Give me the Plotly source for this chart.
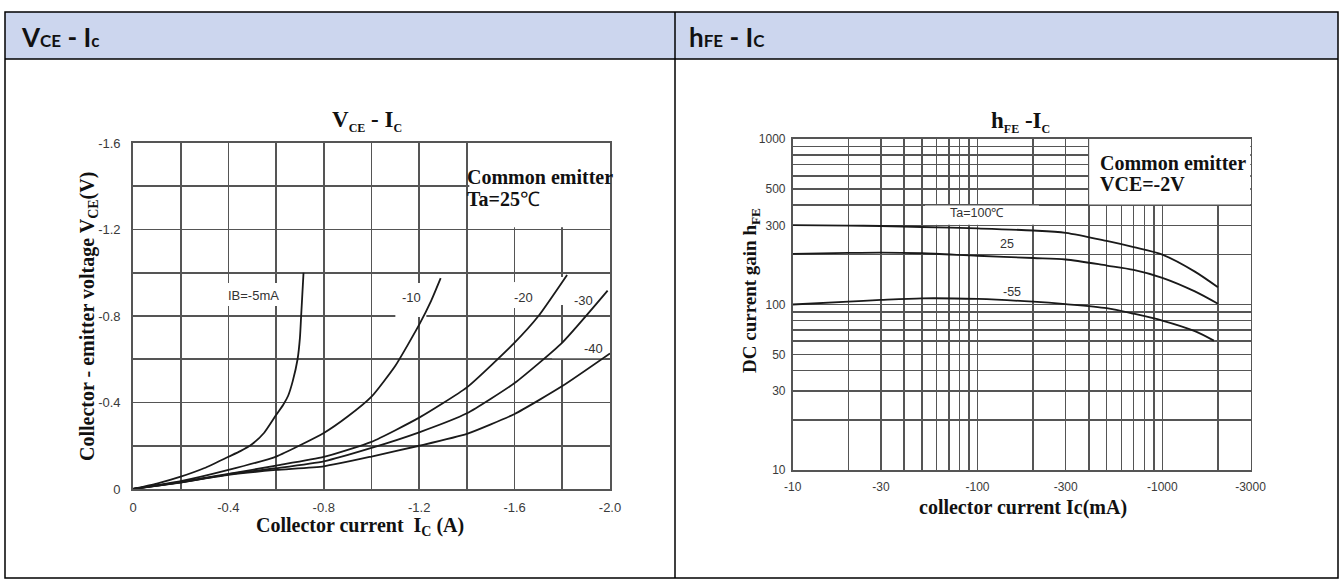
import plotly.graph_objects as go

W, H = 1343, 581

# ---------------- data : V_CE - I_C (left panel) ----------------
ic_ib5 = [0, -0.1, -0.2, -0.3, -0.4, -0.45, -0.5, -0.55, -0.6, -0.63, -0.65, -0.67, -0.69, -0.70, -0.705, -0.71, -0.715]
vce_ib5 = [0, -0.025, -0.057, -0.097, -0.149, -0.175, -0.208, -0.26, -0.342, -0.39, -0.43, -0.5, -0.6, -0.7, -0.8, -0.9, -1.0]

ic_ib10 = [0, -0.2, -0.4, -0.6, -0.8, -0.9, -1.0, -1.1, -1.2, -1.25, -1.29]
vce_ib10 = [0, -0.036, -0.088, -0.15, -0.259, -0.335, -0.427, -0.57, -0.76, -0.87, -0.975]

ic_ib20 = [0, -0.2, -0.4, -0.6, -0.8, -1.0, -1.2, -1.4, -1.6, -1.7, -1.82]
vce_ib20 = [0, -0.032, -0.07, -0.108, -0.148, -0.218, -0.33, -0.47, -0.677, -0.8, -0.99]

ic_ib30 = [0, -0.2, -0.4, -0.6, -0.8, -1.0, -1.2, -1.4, -1.6, -1.8, -1.99]
vce_ib30 = [0, -0.031, -0.068, -0.096, -0.128, -0.19, -0.262, -0.35, -0.49, -0.677, -0.917]

ic_ib40 = [0, -0.2, -0.4, -0.6, -0.8, -1.0, -1.2, -1.4, -1.6, -1.8, -2.0]
vce_ib40 = [0, -0.03, -0.065, -0.088, -0.105, -0.15, -0.2, -0.255, -0.347, -0.476, -0.627]

ib_labels = ["IB=-5mA", "-10", "-20", "-30", "-40"]

vce_x_ticks = [0, -0.4, -0.8, -1.2, -1.6, -2.0]
vce_x_text = ["0", "-0.4", "-0.8", "-1.2", "-1.6", "-2.0"]
vce_x_minor = [-0.2, -0.6, -1.0, -1.4, -1.8]
vce_y_ticks = [0, -0.4, -0.8, -1.2, -1.6]
vce_y_text = ["0", "-0.4", "-0.8", "-1.2", "-1.6"]
vce_y_minor = [-0.2, -0.6, -1.0, -1.4]

# ---------------- data : h_FE - I_C (right panel) ----------------
ic_ma = [10, 20, 30, 50, 100, 200, 300, 500, 700, 1000, 1500, 2000]
hfe_100 = [302, 300, 298, 294, 288, 280, 271, 242, 222, 200, 158, 127]
hfe_25 = [202, 205, 206, 204, 197, 191, 187, 172, 162, 145, 120, 101]
ic_ma_m55 = [10, 20, 30, 50, 100, 200, 300, 500, 700, 1000, 1500, 1900]
hfe_m55 = [100, 104, 106.5, 109, 108, 104, 100.5, 95, 88, 80, 69, 60.5]

ta_labels = ["Ta=100\u2103", "25", "-55"]

hfe_x_ticks = [10, 30, 100, 300, 1000, 3000]
hfe_x_text = ["-10", "-30", "-100", "-300", "-1000", "-3000"]
hfe_x_minor = [20, 40, 50, 60, 70, 80, 90, 200, 400, 500, 600, 700, 800, 900, 2000]
hfe_y_ticks = [10, 30, 50, 100, 300, 500, 1000]
hfe_y_text = ["10", "30", "50", "100", "300", "500", "1000"]
hfe_y_minor = [20, 40, 60, 70, 80, 90, 200, 400, 600, 700, 800, 900]

# ---------------- helpers ----------------
OFF = 0  # page body margin removed below (post_script)


def px(x):
    return (x - OFF) / W


def py(y):
    return 1 - (y - OFF) / H


SERIF = "Liberation Serif"
SANS = "Liberation Sans"
GRID = "#555555"
CURVE = "#1a1a1a"

fig = go.Figure()

for xs, ys in [(ic_ib5, vce_ib5), (ic_ib10, vce_ib10), (ic_ib20, vce_ib20),
               (ic_ib30, vce_ib30), (ic_ib40, vce_ib40)]:
    fig.add_trace(go.Scatter(x=xs, y=ys, mode="lines", xaxis="x", yaxis="y",
                             line=dict(color=CURVE, width=1.8, shape="spline", smoothing=0.5),
                             showlegend=False, hoverinfo="skip"))

for xs, ys in [(ic_ma, hfe_100), (ic_ma, hfe_25), (ic_ma_m55, hfe_m55)]:
    fig.add_trace(go.Scatter(x=xs, y=ys, mode="lines", xaxis="x2", yaxis="y2",
                             line=dict(color=CURVE, width=1.8, shape="spline", smoothing=0.8),
                             showlegend=False, hoverinfo="skip"))

common_axis = dict(showgrid=True, gridcolor=GRID, gridwidth=1.6, zeroline=False,
                   showline=True, mirror=True, linecolor=GRID, linewidth=1.8,
                   ticks="", tickmode="array", fixedrange=True, automargin=False)


def minor(vals):
    return dict(tickmode="array", tickvals=vals, showgrid=True, gridcolor=GRID,
                gridwidth=1.6, ticks="")


fig.update_layout(
    width=W, height=H, autosize=False,
    margin=dict(l=0, r=0, t=0, b=0, pad=0, autoexpand=False),
    paper_bgcolor="white", plot_bgcolor="white",
    showlegend=False,
    xaxis=dict(common_axis, domain=[px(133), px(610)], range=[0, -2.0],
               tickvals=vce_x_ticks, ticktext=vce_x_text, minor=minor(vce_x_minor), anchor="y",
               tickfont=dict(family=SANS, size=13, color="#3a3a3a"), ticklabelstandoff=6),
    yaxis=dict(common_axis, domain=[py(489), py(143)], range=[0, -1.6],
               tickvals=vce_y_ticks, ticktext=vce_y_text, minor=minor(vce_y_minor), anchor="x",
               tickfont=dict(family=SANS, size=13, color="#3a3a3a"), ticklabelstandoff=8),
    xaxis2=dict(common_axis, type="log", domain=[px(792.7), px(1250.5)], range=[1, 3.4771],
                tickvals=hfe_x_ticks, ticktext=hfe_x_text, minor=minor(hfe_x_minor), anchor="y2",
                tickfont=dict(family=SANS, size=12, color="#3a3a3a"), ticklabelstandoff=5),
    yaxis2=dict(common_axis, type="log", domain=[py(470), py(139)], range=[1, 3],
                tickvals=hfe_y_ticks, ticktext=hfe_y_text, minor=minor(hfe_y_minor), anchor="x2",
                tickfont=dict(family=SANS, size=12, color="#3a3a3a"), ticklabelstandoff=3),
)

shapes = []
# table: header fill, borders
shapes.append(dict(type="rect", xref="paper", yref="paper", x0=px(5), x1=px(1338), y0=py(59), y1=py(12),
                   fillcolor="#CCD6EE", line=dict(width=0), layer="below"))
shapes.append(dict(type="rect", xref="paper", yref="paper", x0=px(5), x1=px(1338), y0=py(578), y1=py(12),
                   line=dict(color="black", width=1.5), fillcolor="rgba(0,0,0,0)"))
shapes.append(dict(type="line", xref="paper", yref="paper", x0=px(5), x1=px(1338), y0=py(59), y1=py(59),
                   line=dict(color="black", width=1.5)))
shapes.append(dict(type="line", xref="paper", yref="paper", x0=px(675), x1=px(675), y0=py(12), y1=py(578),
                   line=dict(color="black", width=1.5)))


# blank regions in the grids (legend boxes and label gaps)
def blank(xref, yref, x0, x1, y0, y1):
    return dict(type="rect", xref=xref, yref=yref, x0=x0, x1=x1, y0=y0, y1=y1,
                fillcolor="white", line=dict(width=0), layer="between")


shapes += [
    blank("x", "y", -1.41, -2.0, -1.21, -1.6),
    blank("x", "y", -0.37, -0.64, -0.953, -0.846),
    blank("x", "y", -1.10, -1.23, -0.953, -0.795),
    blank("x", "y", -1.54, -1.66, -0.957, -0.837),
    blank("x", "y", -1.75, -1.95, -0.98, -0.851),
    blank("x", "y", -1.757, -1.98, -0.675, -0.605),
    blank("x2", "y2", 402, 3000, 402, 1000),
    blank("x2", "y2", 52, 215, 303, 396),
]
fig.update_layout(shapes=shapes)

ann = []


def text(x, y, s, size, family, color="#111111", xanchor="center", yanchor="middle", angle=0, **kw):
    ann.append(dict(x=px(x), y=py(y), xref="paper", yref="paper", text=s, showarrow=False,
                    font=dict(family=family, size=size, color=color), xanchor=xanchor,
                    yanchor=yanchor, textangle=angle, **kw))


# table headers
text(19, 37, "<b>V<span style='font-size:17px'>CE</span> - I<span style='font-size:17px'>c</span></b>",
     26, "Lato", color="#111111", xanchor="left")
text(687, 37, "<b>h<span style='font-size:17px'>FE</span> - I<span style='font-size:17px'>C</span></b>",
     26, "Lato", color="#111111", xanchor="left")

# left chart texts
text(367, 121, "<b>V<sub><span style='font-size:12px'>CE</span></sub> - I<sub><span style='font-size:12px'>C</span></sub></b>", 23, SERIF)
text(88, 317, "<b>Collector - emitter voltage V<sub>CE</sub>(V)</b>", 20, SERIF, angle=-90)
text(360, 526, "<b>Collector current&nbsp; I<sub>C</sub> (A)</b>", 20, SERIF)
text(465, 177, "<b>Common emitter</b>", 20, SERIF, xanchor="left")
text(465, 199, "<b>Ta=25</b>\u2103", 20, SERIF, xanchor="left")

for lab, (x, y) in zip(ib_labels, [(253, 295), (411, 297), (523, 297), (583, 300), (593, 348)]):
    text(x, y, lab, 13, SANS, color="#333333")

# right chart texts
text(1021, 122, "<b>h<sub><span style='font-size:12px'>FE</span></sub> -I<sub><span style='font-size:12px'>C</span></sub></b>", 23, SERIF)
text(751, 291, "<b>DC current gain h<sub>FE</sub></b>", 19, SERIF, angle=-90)
text(1023, 507, "<b>collector current Ic(mA)</b>", 20, SERIF)
text(1098, 163, "<b>Common emitter</b>", 20, SERIF, xanchor="left")
text(1098, 184, "<b>VCE=-2V</b>", 20, SERIF, xanchor="left")

for lab, (x, y) in zip(ta_labels, [(977, 213), (1007, 244), (1012, 292)]):
    text(x, y, lab, 12.5, SANS, color="#333333")

fig.update_layout(annotations=ann)

fig.write_html("out.html",
               config={"displayModeBar": False, "staticPlot": True},
               post_script="document.body.style.margin='0';document.body.style.overflow='hidden';")
